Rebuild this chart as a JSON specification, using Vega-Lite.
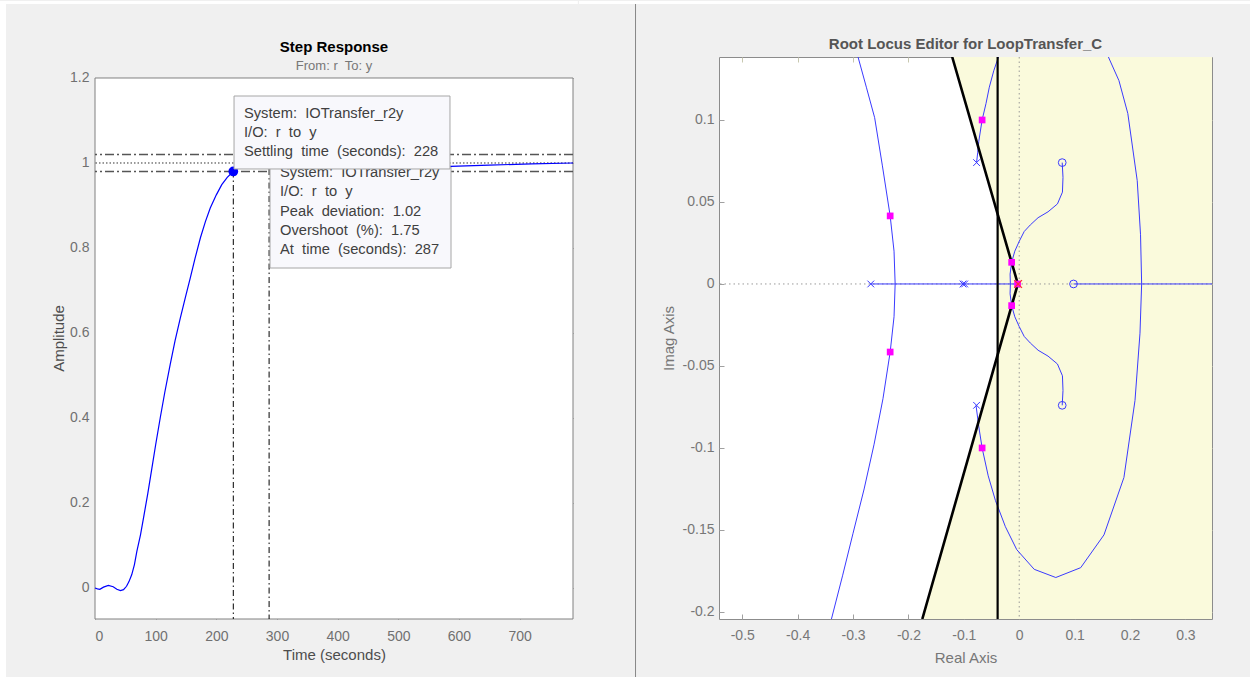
{
  "$schema": "https://vega.github.io/schema/vega-lite/v6.json",
  "background": "#f0f0f0",
  "padding": 0,
  "autosize": {"type": "pad"},
  "spacing": 0,
  "config": {"view": {"stroke": null}, "font": "Liberation Sans"},
  "hconcat": [
    {
      "width": 478,
      "height": 562,
      "view": {"stroke": null},
      "title": {"text": "Step Response", "subtitle": "From: r\u00a0 To: y", "frame": "group", "font": "Liberation Sans", "fontSize": 15, "fontWeight": "bold", "color": "#000000", "subtitleFont": "Liberation Sans", "subtitleFontSize": 13, "subtitleColor": "#777777", "subtitlePadding": 5, "offset": -72, "anchor": "middle"},
      "resolve": {"axis": {"x": "independent", "y": "independent"}},
      "layer": [
        {
          "data": {"values": [{}]},
          "mark": {"type": "rect", "clip": false, "color": "#ffffff"},
          "encoding": {
            "x": {"datum": -156.6, "type": "quantitative", "scale": {"domain": [0, 788], "nice": false, "zero": false}, "axis": null},
            "x2": {"datum": -146.7},
            "y": {"datum": 1.3812, "type": "quantitative", "scale": {"domain": [-0.073, 1.2494], "nice": false, "zero": false}, "axis": null},
            "y2": {"datum": -0.2118}
          }
        },
        {
          "data": {"values": [{}]},
          "mark": {"type": "rect", "clip": false, "color": "#ffffff"},
          "encoding": {
            "x": {"datum": -146.7, "type": "quantitative", "scale": {"domain": [0, 788], "nice": false, "zero": false}, "axis": null},
            "x2": {"datum": 796},
            "y": {"datum": 1.3812, "type": "quantitative", "scale": {"domain": [-0.073, 1.2494], "nice": false, "zero": false}, "axis": null},
            "y2": {"datum": 1.3741}
          }
        },
        {
          "data": {"values": [{}]},
          "mark": {"type": "rect", "clip": false, "fill": "#ffffff", "stroke": "#808080", "strokeWidth": 1},
          "encoding": {
            "x": {"datum": 0, "type": "quantitative", "scale": {"domain": [0, 788], "nice": false, "zero": false}, "axis": null},
            "x2": {"datum": 788},
            "y": {"datum": 1.2, "type": "quantitative", "scale": {"domain": [-0.073, 1.2494], "nice": false, "zero": false}, "axis": null},
            "y2": {"datum": -0.073}
          }
        },
        {
          "data": {"values": [{"y": 1.02}, {"y": 0.98}]},
          "mark": {"type": "rule", "color": "#555555", "strokeWidth": 1.6, "strokeDash": [9, 3, 2, 3]},
          "encoding": {
            "y": {"field": "y", "type": "quantitative", "scale": {"domain": [-0.073, 1.2494], "nice": false, "zero": false}, "axis": null}
          }
        },
        {
          "data": {"values": [{"y": 1.0}]},
          "mark": {"type": "rule", "color": "#333333", "strokeWidth": 1, "strokeDash": [1.5, 2]},
          "encoding": {
            "y": {"field": "y", "type": "quantitative", "scale": {"domain": [-0.073, 1.2494], "nice": false, "zero": false}, "axis": null}
          }
        },
        {
          "data": {"values": [{"t": 228, "y": 0.98}, {"t": 287, "y": 1.0175}]},
          "mark": {"type": "rule", "color": "#000000", "strokeWidth": 1, "strokeDash": [6, 3, 1.5, 3]},
          "encoding": {
            "x": {"field": "t", "type": "quantitative", "scale": {"domain": [0, 788], "nice": false, "zero": false}, "axis": null},
            "y": {"field": "y", "type": "quantitative", "scale": {"domain": [-0.073, 1.2494], "nice": false, "zero": false}, "axis": null},
            "y2": {"datum": -0.073}
          }
        },
        {
          "data": {"values": [
            {"t": 0, "y": 0}, {"t": 4, "y": -0.002}, {"t": 8, "y": -0.003}, {"t": 14, "y": 0.002}, {"t": 22, "y": 0.006}, {"t": 30, "y": 0.003},
            {"t": 36, "y": -0.003}, {"t": 42, "y": -0.006}, {"t": 47, "y": -0.004}, {"t": 52, "y": 0.004}, {"t": 56, "y": 0.015}, {"t": 60.5, "y": 0.031},
            {"t": 65, "y": 0.055}, {"t": 69, "y": 0.086}, {"t": 75, "y": 0.125}, {"t": 80, "y": 0.165}, {"t": 87, "y": 0.222}, {"t": 93.8, "y": 0.282},
            {"t": 100, "y": 0.337}, {"t": 107.5, "y": 0.4}, {"t": 115, "y": 0.46}, {"t": 124, "y": 0.526}, {"t": 132, "y": 0.582}, {"t": 140.6, "y": 0.635},
            {"t": 149, "y": 0.684}, {"t": 157, "y": 0.729}, {"t": 165, "y": 0.776}, {"t": 173.8, "y": 0.824}, {"t": 182, "y": 0.862}, {"t": 190, "y": 0.894},
            {"t": 200, "y": 0.925}, {"t": 209, "y": 0.949}, {"t": 218, "y": 0.966}, {"t": 228, "y": 0.98}, {"t": 240, "y": 0.993}, {"t": 255, "y": 1.006},
            {"t": 270, "y": 1.014}, {"t": 287, "y": 1.0175}, {"t": 310, "y": 1.015}, {"t": 350, "y": 1.005}, {"t": 400, "y": 0.996}, {"t": 450, "y": 0.992},
            {"t": 586, "y": 0.992}, {"t": 650, "y": 0.995}, {"t": 720, "y": 0.998}, {"t": 788, "y": 1.0}
          ]},
          "mark": {"type": "line", "color": "#0000ff", "strokeWidth": 1.2},
          "encoding": {
            "x": {"field": "t", "type": "quantitative", "scale": {"domain": [0, 788], "nice": false, "zero": false},
                  "axis": {"orient": "bottom", "values": [0, 100, 200, 300, 400, 500, 600, 700], "domain": false, "grid": false, "tickSize": -5, "tickColor": "#808080", "labelColor": "#707070", "labelFontSize": 14, "labelFont": "Liberation Sans", "labelPadding": 15, "title": "Time (seconds)", "titleFont": "Liberation Sans", "titleFontSize": 15, "titleFontWeight": "normal", "titleColor": "#4d4d4d", "titlePadding": 4}},
            "y": {"field": "y", "type": "quantitative", "scale": {"domain": [-0.073, 1.2494], "nice": false, "zero": false},
                  "axis": {"orient": "left", "values": [0, 0.2, 0.4, 0.6, 0.8, 1, 1.2], "labelExpr": "toString(datum.value)", "domain": false, "grid": false, "tickSize": -5, "tickColor": "#808080", "labelColor": "#707070", "labelFontSize": 14, "labelFont": "Liberation Sans", "labelPadding": 11, "title": "Amplitude", "titleFont": "Liberation Sans", "titleFontSize": 15, "titleFontWeight": "normal", "titleColor": "#4d4d4d", "titlePadding": 3}}
          }
        },
        {
          "data": {"values": [{"t": 228, "y": 0.98}]},
          "mark": {"type": "circle", "color": "#0000ff", "opacity": 1, "size": 95},
          "encoding": {
            "x": {"field": "t", "type": "quantitative", "scale": {"domain": [0, 788], "nice": false, "zero": false},
                  "axis": {"orient": "top", "offset": -21, "values": [0, 100, 200, 300, 400, 500, 600, 700], "labels": false, "domain": false, "grid": false, "tickSize": -5, "tickColor": "#808080", "title": null}},
            "y": {"field": "y", "type": "quantitative", "scale": {"domain": [-0.073, 1.2494], "nice": false, "zero": false},
                  "axis": {"orient": "right", "values": [0, 0.2, 0.4, 0.6, 0.8, 1, 1.2], "labels": false, "domain": false, "grid": false, "tickSize": -5, "tickColor": "#808080", "title": null}}
          }
        },
        {
          "data": {"values": [{}]},
          "mark": {"type": "rect", "fill": "#f8f8fc", "stroke": "#a6a6a6", "strokeWidth": 1},
          "encoding": {
            "x": {"datum": 288.5, "type": "quantitative", "scale": {"domain": [0, 788], "nice": false, "zero": false}, "axis": null},
            "x2": {"datum": 586.9},
            "y": {"datum": 0.9906, "type": "quantitative", "scale": {"domain": [-0.073, 1.2494], "nice": false, "zero": false}, "axis": null},
            "y2": {"datum": 0.7529}
          }
        },
        {
          "data": {"values": [
            {"label": "System:\u00a0 IOTransfer_r2y", "t": 305, "y": 0.9772},
            {"label": "I/O:\u00a0 r\u00a0 to\u00a0 y", "t": 305, "y": 0.9318},
            {"label": "Peak\u00a0 deviation:\u00a0 1.02", "t": 305, "y": 0.8854},
            {"label": "Overshoot\u00a0 (%):\u00a0 1.75", "t": 305, "y": 0.8400},
            {"label": "At\u00a0 time\u00a0 (seconds):\u00a0 287", "t": 305, "y": 0.7946}
          ]},
          "mark": {"type": "text", "align": "left", "baseline": "middle", "fontSize": 14.7, "font": "Liberation Sans", "color": "#404040"},
          "encoding": {
            "x": {"field": "t", "type": "quantitative", "scale": {"domain": [0, 788], "nice": false, "zero": false}, "axis": null},
            "y": {"field": "y", "type": "quantitative", "scale": {"domain": [-0.073, 1.2494], "nice": false, "zero": false}, "axis": null},
            "text": {"field": "label"}
          }
        },
        {
          "data": {"values": [{}]},
          "mark": {"type": "rect", "fill": "#f8f8fc", "stroke": "#a6a6a6", "strokeWidth": 1},
          "encoding": {
            "x": {"datum": 229.2, "type": "quantitative", "scale": {"domain": [0, 788], "nice": false, "zero": false}, "axis": null},
            "x2": {"datum": 585.2},
            "y": {"datum": 1.1576, "type": "quantitative", "scale": {"domain": [-0.073, 1.2494], "nice": false, "zero": false}, "axis": null},
            "y2": {"datum": 0.9859}
          }
        },
        {
          "data": {"values": [
            {"label": "System:\u00a0 IOTransfer_r2y", "t": 245.6, "y": 1.1153},
            {"label": "I/O:\u00a0 r\u00a0 to\u00a0 y", "t": 245.6, "y": 1.0706},
            {"label": "Settling\u00a0 time\u00a0 (seconds):\u00a0 228", "t": 245.6, "y": 1.0259}
          ]},
          "mark": {"type": "text", "align": "left", "baseline": "middle", "fontSize": 14.7, "font": "Liberation Sans", "color": "#404040"},
          "encoding": {
            "x": {"field": "t", "type": "quantitative", "scale": {"domain": [0, 788], "nice": false, "zero": false}, "axis": null},
            "y": {"field": "y", "type": "quantitative", "scale": {"domain": [-0.073, 1.2494], "nice": false, "zero": false}, "axis": null},
            "text": {"field": "label"}
          }
        }
      ]
    },
    {
      "width": 493,
      "height": 562,
      "view": {"fill": "#ffffff", "stroke": "#8c8c8c"},
      "title": {"text": "Root Locus Editor for LoopTransfer_C", "frame": "group", "font": "Liberation Sans", "fontSize": 15, "fontWeight": "bold", "color": "#555555", "offset": -51, "anchor": "middle"},
      "resolve": {"axis": {"x": "independent", "y": "independent"}},
      "layer": [
        {
          "data": {"values": [{}]},
          "mark": {"type": "rect", "clip": false, "color": "#ffffff"},
          "encoding": {
            "x": {"datum": -0.7947, "type": "quantitative", "scale": {"domain": [-0.542, 0.348], "nice": false, "zero": false}, "axis": null},
            "x2": {"datum": 0.4184},
            "y": {"datum": 0.17255, "type": "quantitative", "scale": {"domain": [-0.2043, 0.1384], "nice": false, "zero": false}, "axis": null},
            "y2": {"datum": 0.17072}
          }
        },
        {
          "data": {"values": [
            {"re": -0.1224, "im": 0.14},
            {"re": -0.039, "im": 0.0426},
            {"re": -0.039, "im": -0.0432},
            {"re": -0.1765, "im": -0.206}
          ]},
          "mark": {"type": "area", "orient": "horizontal", "color": "#fafadc", "clip": true},
          "encoding": {
            "x": {"field": "re", "type": "quantitative", "scale": {"domain": [-0.542, 0.348], "nice": false, "zero": false}, "axis": null},
            "x2": {"datum": 0.348},
            "y": {"field": "im", "type": "quantitative", "scale": {"domain": [-0.2043, 0.1384], "nice": false, "zero": false}, "axis": null}
          }
        },
        {
          "data": {"values": [{}]},
          "mark": {"type": "rule", "color": "#9a9a9a", "strokeWidth": 1, "strokeDash": [1.5, 3]},
          "encoding": {
            "y": {"datum": 0, "type": "quantitative", "scale": {"domain": [-0.2043, 0.1384], "nice": false, "zero": false}, "axis": null}
          }
        },
        {
          "data": {"values": [{}]},
          "mark": {"type": "rule", "color": "#9a9a9a", "strokeWidth": 1, "strokeDash": [1.5, 3]},
          "encoding": {
            "x": {"datum": 0, "type": "quantitative", "scale": {"domain": [-0.542, 0.348], "nice": false, "zero": false}, "axis": null}
          }
        },
        {
          "data": {"values": [
            {"seg": "L", "i": 0, "re": -0.291, "im": 0.1384}, {"seg": "L", "i": 1, "re": -0.276, "im": 0.12}, {"seg": "L", "i": 2, "re": -0.261, "im": 0.1014},
            {"seg": "L", "i": 3, "re": -0.247, "im": 0.072}, {"seg": "L", "i": 4, "re": -0.233, "im": 0.0415}, {"seg": "L", "i": 5, "re": -0.226, "im": 0.02},
            {"seg": "L", "i": 6, "re": -0.224, "im": 0}, {"seg": "L", "i": 7, "re": -0.226, "im": -0.02}, {"seg": "L", "i": 8, "re": -0.233, "im": -0.0415},
            {"seg": "L", "i": 9, "re": -0.246, "im": -0.07}, {"seg": "L", "i": 10, "re": -0.262, "im": -0.0977}, {"seg": "L", "i": 11, "re": -0.28, "im": -0.125},
            {"seg": "L", "i": 12, "re": -0.3, "im": -0.152}, {"seg": "L", "i": 13, "re": -0.319, "im": -0.178}, {"seg": "L", "i": 14, "re": -0.339, "im": -0.2043},
            {"seg": "T", "i": 0, "re": -0.077, "im": 0.074}, {"seg": "T", "i": 1, "re": -0.075, "im": 0.08}, {"seg": "T", "i": 2, "re": -0.073, "im": 0.087},
            {"seg": "T", "i": 3, "re": -0.067, "im": 0.1}, {"seg": "T", "i": 4, "re": -0.06, "im": 0.11}, {"seg": "T", "i": 5, "re": -0.054, "im": 0.12},
            {"seg": "T", "i": 6, "re": -0.046, "im": 0.13}, {"seg": "T", "i": 7, "re": -0.0375, "im": 0.1384},
            {"seg": "B", "i": 0, "re": -0.078, "im": -0.074}, {"seg": "B", "i": 1, "re": -0.073, "im": -0.087}, {"seg": "B", "i": 2, "re": -0.067, "im": -0.1},
            {"seg": "B", "i": 3, "re": -0.056, "im": -0.117}, {"seg": "B", "i": 4, "re": -0.043, "im": -0.132}, {"seg": "B", "i": 5, "re": -0.025, "im": -0.148},
            {"seg": "B", "i": 6, "re": -0.0045, "im": -0.162}, {"seg": "B", "i": 7, "re": 0.027, "im": -0.174}, {"seg": "B", "i": 8, "re": 0.066, "im": -0.179},
            {"seg": "B", "i": 9, "re": 0.111, "im": -0.173}, {"seg": "B", "i": 10, "re": 0.153, "im": -0.153}, {"seg": "B", "i": 11, "re": 0.189, "im": -0.118},
            {"seg": "B", "i": 12, "re": 0.209, "im": -0.071}, {"seg": "B", "i": 13, "re": 0.218, "im": -0.03}, {"seg": "B", "i": 14, "re": 0.221, "im": 0},
            {"seg": "B", "i": 15, "re": 0.219, "im": 0.03}, {"seg": "B", "i": 16, "re": 0.213, "im": 0.063}, {"seg": "B", "i": 17, "re": 0.196, "im": 0.104},
            {"seg": "B", "i": 18, "re": 0.18, "im": 0.124}, {"seg": "B", "i": 19, "re": 0.161, "im": 0.1384},
            {"seg": "S", "i": 0, "re": 0.0776, "im": 0.074}, {"seg": "S", "i": 1, "re": 0.079, "im": 0.065}, {"seg": "S", "i": 2, "re": 0.078, "im": 0.056},
            {"seg": "S", "i": 3, "re": 0.069, "im": 0.0488}, {"seg": "S", "i": 4, "re": 0.052, "im": 0.044}, {"seg": "S", "i": 5, "re": 0.034, "im": 0.0404},
            {"seg": "S", "i": 6, "re": 0.02, "im": 0.036}, {"seg": "S", "i": 7, "re": 0.009, "im": 0.032}, {"seg": "S", "i": 8, "re": 0.0, "im": 0.026},
            {"seg": "S", "i": 9, "re": -0.008, "im": 0.02}, {"seg": "S", "i": 10, "re": -0.0137, "im": 0.0132}, {"seg": "S", "i": 11, "re": -0.0165, "im": 0.006},
            {"seg": "S", "i": 12, "re": -0.016, "im": 0}, {"seg": "S", "i": 13, "re": -0.0165, "im": -0.006}, {"seg": "S", "i": 14, "re": -0.0137, "im": -0.0132},
            {"seg": "S", "i": 15, "re": -0.008, "im": -0.02}, {"seg": "S", "i": 16, "re": 0.0, "im": -0.026}, {"seg": "S", "i": 17, "re": 0.009, "im": -0.032},
            {"seg": "S", "i": 18, "re": 0.02, "im": -0.036}, {"seg": "S", "i": 19, "re": 0.034, "im": -0.0404}, {"seg": "S", "i": 20, "re": 0.052, "im": -0.044},
            {"seg": "S", "i": 21, "re": 0.069, "im": -0.0488}, {"seg": "S", "i": 22, "re": 0.078, "im": -0.056}, {"seg": "S", "i": 23, "re": 0.079, "im": -0.065},
            {"seg": "S", "i": 24, "re": 0.0776, "im": -0.074},
            {"seg": "R1", "i": 0, "re": -0.268, "im": 0}, {"seg": "R1", "i": 1, "re": -0.003, "im": 0},
            {"seg": "R2", "i": 0, "re": 0.098, "im": 0}, {"seg": "R2", "i": 1, "re": 0.348, "im": 0}
          ]},
          "mark": {"type": "line", "color": "#3a3aff", "strokeWidth": 1, "clip": true},
          "encoding": {
            "x": {"field": "re", "type": "quantitative", "scale": {"domain": [-0.542, 0.348], "nice": false, "zero": false},
                  "axis": {"orient": "bottom", "values": [-0.5, -0.4, -0.3, -0.2, -0.1, 0, 0.1, 0.2, 0.3], "labelExpr": "toString(datum.value)", "domain": false, "grid": false, "tickSize": -5, "tickColor": "#a0a0a0", "labelColor": "#777777", "labelFontSize": 14, "labelFont": "Liberation Sans", "labelPadding": 14, "title": "Real Axis", "titleFont": "Liberation Sans", "titleFontSize": 15, "titleFontWeight": "normal", "titleColor": "#777777", "titlePadding": 8}},
            "y": {"field": "im", "type": "quantitative", "scale": {"domain": [-0.2043, 0.1384], "nice": false, "zero": false},
                  "axis": {"orient": "left", "values": [-0.2, -0.15, -0.1, -0.05, 0, 0.05, 0.1], "labelExpr": "toString(datum.value)", "domain": false, "grid": false, "tickSize": -5, "tickColor": "#a0a0a0", "labelColor": "#777777", "labelFontSize": 14, "labelFont": "Liberation Sans", "labelPadding": 10, "title": "Imag Axis", "titleFont": "Liberation Sans", "titleFontSize": 15, "titleFontWeight": "normal", "titleColor": "#777777", "titlePadding": 6}},
            "detail": {"field": "seg"},
            "order": {"field": "i", "type": "quantitative"}
          }
        },
        {
          "data": {"values": [
            {"i": 0, "re": -0.121, "im": 0.1384}, {"i": 1, "re": -0.0025, "im": 0}, {"i": 2, "re": -0.175, "im": -0.2043}
          ]},
          "mark": {"type": "line", "color": "#000000", "strokeWidth": 2.6, "clip": true},
          "encoding": {
            "x": {"field": "re", "type": "quantitative", "scale": {"domain": [-0.542, 0.348], "nice": false, "zero": false}, "axis": null},
            "y": {"field": "im", "type": "quantitative", "scale": {"domain": [-0.2043, 0.1384], "nice": false, "zero": false}, "axis": null},
            "order": {"field": "i", "type": "quantitative"}
          }
        },
        {
          "data": {"values": [{}]},
          "mark": {"type": "rule", "color": "#000000", "strokeWidth": 2.2},
          "encoding": {
            "x": {"datum": -0.039, "type": "quantitative", "scale": {"domain": [-0.542, 0.348], "nice": false, "zero": false}, "axis": null}
          }
        },
        {
          "data": {"values": [
            {"re": -0.268, "im": 0}, {"re": -0.1015, "im": 0}, {"re": -0.0985, "im": 0}, {"re": -0.077, "im": 0.074}, {"re": -0.077, "im": -0.074}
          ]},
          "mark": {"type": "point", "shape": "M-1,-1L1,1M-1,1L1,-1", "filled": false, "color": "#3a3aff", "strokeWidth": 1, "size": 45, "opacity": 1},
          "encoding": {
            "x": {"field": "re", "type": "quantitative", "scale": {"domain": [-0.542, 0.348], "nice": false, "zero": false}, "axis": null},
            "y": {"field": "im", "type": "quantitative", "scale": {"domain": [-0.2043, 0.1384], "nice": false, "zero": false}, "axis": null}
          }
        },
        {
          "data": {"values": [
            {"re": 0.098, "im": 0}, {"re": 0.0776, "im": 0.074}, {"re": 0.0776, "im": -0.074}
          ]},
          "mark": {"type": "point", "shape": "circle", "filled": false, "color": "#3a3aff", "strokeWidth": 1, "size": 60, "opacity": 1},
          "encoding": {
            "x": {"field": "re", "type": "quantitative", "scale": {"domain": [-0.542, 0.348], "nice": false, "zero": false}, "axis": null},
            "y": {"field": "im", "type": "quantitative", "scale": {"domain": [-0.2043, 0.1384], "nice": false, "zero": false}, "axis": null}
          }
        },
        {
          "data": {"values": [
            {"re": -0.233, "im": 0.0415}, {"re": -0.233, "im": -0.0415}, {"re": -0.067, "im": 0.1}, {"re": -0.067, "im": -0.1},
            {"re": -0.0137, "im": 0.0132}, {"re": -0.0137, "im": -0.0132}, {"re": -0.003, "im": 0}
          ]},
          "mark": {"type": "square", "color": "#ff00ff", "size": 45, "opacity": 1},
          "encoding": {
            "x": {"field": "re", "type": "quantitative", "scale": {"domain": [-0.542, 0.348], "nice": false, "zero": false},
                  "axis": {"orient": "top", "values": [-0.5, -0.4, -0.3, -0.2, -0.1, 0, 0.1, 0.2, 0.3], "labels": false, "domain": false, "grid": false, "tickSize": -5, "tickColor": "#c8c8b0", "title": null}},
            "y": {"field": "im", "type": "quantitative", "scale": {"domain": [-0.2043, 0.1384], "nice": false, "zero": false},
                  "axis": {"orient": "right", "values": [-0.2, -0.15, -0.1, -0.05, 0, 0.05, 0.1], "labels": false, "domain": false, "grid": false, "tickSize": -5, "tickColor": "#c8c8b0", "title": null}}
          }
        },
        {
          "data": {"values": [{"re": -0.002, "im": 0}]},
          "mark": {"type": "point", "shape": "M-1,-1L1,1M-1,1L1,-1", "filled": false, "color": "#ff3030", "strokeWidth": 1.2, "size": 60, "opacity": 1},
          "encoding": {
            "x": {"field": "re", "type": "quantitative", "scale": {"domain": [-0.542, 0.348], "nice": false, "zero": false}, "axis": null},
            "y": {"field": "im", "type": "quantitative", "scale": {"domain": [-0.2043, 0.1384], "nice": false, "zero": false}, "axis": null}
          }
        },
        {
          "data": {"values": [{}]},
          "mark": {"type": "rule", "color": "#888888", "strokeWidth": 1, "clip": false},
          "encoding": {
            "x": {"datum": -0.6927, "type": "quantitative", "scale": {"domain": [-0.542, 0.348], "nice": false, "zero": false}, "axis": null},
            "y": {"datum": 0.17072, "type": "quantitative", "scale": {"domain": [-0.2043, 0.1384], "nice": false, "zero": false}, "axis": null},
            "y2": {"datum": -0.2403}
          }
        }
      ]
    }
  ]
}
